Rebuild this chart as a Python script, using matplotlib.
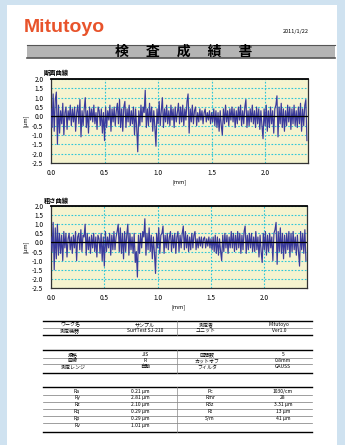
import matplotlib.pyplot as plt
import numpy as np
from matplotlib.lines import Line2D
from matplotlib.patches import Rectangle

plt.rcParams['font.family'] = ['Noto Sans CJK JP', 'DejaVu Sans']

# Profile data (um), one value every 0.01 mm
step_mm = 0.01
primary = [
    0.4, -0.6, 1.2, -0.8, 0.9, 1.3, -1.5, 0.6, -0.9, 0.3,
    -0.4, 0.7, -1.0, 0.2, 0.5, -0.7, 0.3, -0.2, 0.6, -0.5,
    0.4, -0.3, 0.5, -0.8, 0.2, 0.6, -0.4, 0.9, -1.1, 0.3,
    -0.5, 0.4, 1.0, -0.6, 0.3, -0.9, 0.5, -0.2, 0.4, -0.3,
    0.6, -0.4, 0.2, -0.7, 0.5, 0.3, -0.5, 0.4, -0.9, 0.2,
    -1.3, 0.5, -0.6, 0.3, -0.2, 0.6, -0.8, 0.4, -0.3, 0.5,
    -0.5, 0.3, 0.7, -0.4, 0.9, -0.6, 0.4, -0.8, 0.5, 0.8,
    -0.6, 0.4, -0.3, 0.6, -0.5, 0.3, -0.4, 0.5, -1.0, 0.4,
    -0.6, -1.9, 0.3, -0.5, 0.6, -0.3, 0.5, 0.2, 1.4, -0.6,
    0.4, -0.5, 0.7, -0.3, 0.5, -0.8, 0.3, -0.6, -1.6, 0.4,
    -0.4, 0.8, -0.5, 0.3, 1.0, -0.6, 0.4, -0.3, 0.6, -0.4,
    0.3, -0.5, 0.6, -0.2, 0.4, -0.6, 0.5, -0.3, 0.2, 0.7,
    -0.4, 0.5, -0.3, 0.6, -0.5, 0.4, -0.2, 0.8, 1.2, -0.9,
    0.4, -0.3, 0.6, -0.4, 0.3, 0.5, -0.5, 0.2, -0.3, 0.4,
    -0.2, 0.3, -0.4, 0.2, 0.4, -0.3, 0.2, -0.2, 0.3, -0.4,
    0.2, -0.3, 0.4, -0.5, 0.3, -0.6, 0.2, -0.8, 0.3, -0.5,
    -1.0, 0.4, -0.4, 0.6, -0.3, 0.3, -0.5, 0.4, -0.2, 0.5,
    -0.3, 0.4, -0.6, 0.3, -0.4, 0.5, -0.2, 0.6, -0.5, 0.3,
    -0.4, 0.5, 0.9, -0.6, 0.3, -0.5, 0.4, -0.3, 0.6, -0.4,
    0.3, -0.6, 0.5, -0.4, 0.4, -0.7, 0.3, -0.5, -1.2, 0.4,
    -0.5, 0.6, -0.8, 0.3, -0.6, 0.5, -0.4, 0.3, -0.9, 0.4,
    0.6, 1.1, -1.1, 0.5, -0.4, 0.7, -0.6, 0.4, -0.8, 0.3,
    -0.5, 0.6, -0.3, 0.5, -0.7, 0.4, -0.4, 0.6, -0.5, 0.3,
    -0.6, 0.5, -0.4, 0.7, -0.8, 0.4, -0.5, 0.6, 0.9, -1.3,
]
roughness = [
    0.3, -0.5, 1.1, -1.5, 0.8, -0.9, 1.0, -0.7, 0.5, -0.6,
    0.4, -1.0, 0.6, -0.3, 0.5, -0.8, 0.2, 0.5, -0.4, 0.3,
    -0.6, 0.4, -0.3, 0.6, -1.0, 0.3, 0.5, -0.4, 0.7, -0.5,
    0.4, 0.3, 1.0, -0.7, 0.5, -0.4, 0.3, -0.6, 0.4, -0.3,
    0.5, -0.5, 0.3, -0.8, 0.4, 0.2, -0.6, 0.5, -1.0, 0.3,
    -1.3, 0.6, -0.5, 0.3, -0.3, 0.5, -0.7, 0.4, -0.4, 0.6,
    -0.4, 0.3, 0.6, 1.0, -0.5, 0.8, -0.6, 0.5, -0.9, 0.6,
    -0.5, 0.4, 1.0, -0.7, 0.5, -0.4, 0.3, -0.6, 0.5, -1.1,
    -0.5, -1.9, 0.4, -0.6, 0.5, -0.3, 0.6, 0.3, 1.3, -0.7,
    0.5, -0.4, 0.8, -0.5, 0.4, -0.9, 0.3, -0.6, -1.7, 0.5,
    -0.3, 0.8, -0.6, 0.4, 0.5, 0.9, -0.6, 0.4, -0.3, 0.5,
    -0.4, 0.3, 0.6, -0.5, 0.4, -0.3, 0.5, -0.6, 0.3, 0.6,
    -0.5, 0.4, -0.3, 0.5, 0.9, -0.4, 0.6, -0.3, 0.4, -0.5,
    0.3, -0.4, 0.5, -0.3, 0.4, 0.6, -0.4, 0.2, -0.3, 0.3,
    -0.2, 0.3, -0.3, 0.2, 0.3, -0.3, 0.2, -0.2, 0.3, -0.3,
    0.2, -0.4, 0.3, -0.5, 0.4, -0.6, 0.3, -0.7, 0.2, -0.5,
    -1.0, 0.4, -0.5, 0.5, -0.3, 0.4, -0.6, 0.3, -0.3, 0.6,
    -0.3, 0.5, -0.5, 0.4, -0.4, 0.6, -0.3, 0.5, -0.6, 0.4,
    -0.4, 0.6, 0.9, -0.6, 0.4, -0.4, 0.5, -0.3, 0.5, -0.5,
    0.3, -0.5, 0.6, -0.4, 0.3, -0.8, 0.4, -0.5, -1.1, 0.5,
    -0.4, 0.6, -0.7, 0.4, -0.5, 0.5, -0.3, 0.3, -1.0, 0.5,
    0.7, 1.1, -1.2, 0.6, -0.5, 0.8, -0.6, 0.5, -0.9, 0.4,
    -0.6, 0.5, -0.4, 0.6, -0.8, 0.5, -0.5, 0.6, -0.4, 0.3,
    -0.7, 0.4, -0.5, -1.3, 0.6, -0.4, 0.5, -0.6, 0.7, -1.0,
]

x_ticks = [0.0, 0.5, 1.0, 1.5, 2.0]
y_ticks = [2.0, 1.5, 1.0, 0.5, 0.0, -0.5, -1.0, -1.5, -2.0, -2.5]
chart_titles = ['断面曲線', '粗さ曲線']

# Report tables
table1 = [['ワーク名', 'サンプル', '測定者', 'Mitutoyo'],
          ['測定機器', 'SurfTest SJ-210', 'ユニット', 'Ver1.0']]
table2 = [['規格', 'JIS', '区間数', '5'],
          ['曲線', 'R', 'カットオフ', '0.8mm'],
          ['測定レンジ', '自動', 'フィルタ', 'GAUSS']]
table3 = [['Ra', '0.21 µm', 'Pc', '1030/cm'],
          ['Ry', '2.81 µm', 'Rmr', '28'],
          ['Rz', '2.10 µm', 'R3z', '3.31 µm'],
          ['Rq', '0.29 µm', 'Rt', '13 µm'],
          ['Rp', '0.29 µm', 'S/m', '41 µm'],
          ['Rv', '1.01 µm', '', '']]

W, H = 345, 445
fig = plt.figure(figsize=(W / 100, H / 100), dpi=100)
fig.patch.set_facecolor('#cfe2f0')


def fx(px):
    return px / W


def fy(py):
    return 1 - py / H


# white page
fig.add_artist(Rectangle((fx(7), 0), fx(330), fy(5), transform=fig.transFigure,
                         facecolor='white', edgecolor='none', zorder=0))

# header
fig.text(fx(24), fy(28), 'Mitutoyo', color='#e8532b', fontsize=14, fontweight='bold',
         family='Liberation Sans', va='center', ha='left')
fig.text(fx(296), fy(32), '2011/1/22', fontsize=4, va='center', ha='center')
fig.add_artist(Rectangle((fx(27), fy(58)), fx(308), 13 / H, transform=fig.transFigure,
                         facecolor='#b4b4b4', edgecolor='none', zorder=1))
for yy, lw in [(45, 0.8), (58, 1.2)]:
    fig.add_artist(Line2D([fx(27), fx(335)], [fy(yy), fy(yy)], color='#555555', lw=lw))
fig.text(fx(184), fy(55.5), '検　 査　 成　 績　 書', fontsize=10, fontweight='bold',
         va='baseline', ha='center', zorder=3)


def profile_chart(box, data, title):
    left, top, right, bottom = box
    ax = fig.add_axes([fx(left), fy(bottom), fx(right - left), (bottom - top) / H])
    xs = np.arange(len(data)) * step_mm
    ax.set_facecolor('#f5f3cf')
    ax.plot(xs, data, color='#3a3a9c', lw=0.85, zorder=3)
    ax.axhline(0, color='black', lw=0.9, zorder=4)
    ax.set_xlim(0, 2.4)
    ax.set_ylim(-2.5, 2.0)
    ax.set_xticks(x_ticks)
    ax.set_xticklabels([f'{v:.1f}' for v in x_ticks])
    ax.set_yticks(y_ticks)
    ax.set_yticklabels([f'{v:.1f}' for v in y_ticks])
    ax.tick_params(axis='y', length=0, labelsize=4.7, pad=5.5)
    ax.tick_params(axis='x', length=0, labelsize=4.7, pad=4)
    ax.grid(True, color='#2ec6d8', linestyle=(0, (1.5, 1.5)), lw=0.8, zorder=1)
    for s in ax.spines.values():
        s.set_color('#333333')
        s.set_linewidth(0.9)
    ax.spines['top'].set_linewidth(1.3)
    ax.spines['top'].set_color('black')
    ax.set_xlabel('[mm]', fontsize=4, labelpad=2)
    ax.set_ylabel('[µm]', fontsize=4, labelpad=3)
    fig.text(fx(44), fy(top - 6), title, fontsize=4.5, fontweight='bold', va='center', ha='left')
    return ax


profile_chart((51, 79, 308, 163), primary, chart_titles[0])
profile_chart((51, 206, 307, 288), roughness, chart_titles[1])


def draw_table(rows, top, bottom, row_y, col_x, seps):
    x0, x1 = fx(43), fx(312)
    fig.add_artist(Line2D([x0, x1], [fy(top), fy(top)], color='black', lw=1.0))
    fig.add_artist(Line2D([x0, x1], [fy(bottom), fy(bottom)], color='black', lw=1.0))
    for s in seps:
        fig.add_artist(Line2D([x0, x1], [fy(s), fy(s)], color='#777777', lw=0.5))
    fig.add_artist(Line2D([fx(177), fx(177)], [fy(top), fy(bottom)], color='#888888', lw=0.5))
    for r, yy in zip(rows, row_y):
        for txt, cx in zip(r, col_x):
            fig.text(fx(cx), fy(yy + 1.4), txt, fontsize=3.6, va='baseline', ha='center')


draw_table(table1, 321, 334.5, [324.8, 330.5], [70, 145, 206, 279], [327.5])
draw_table(table2, 349.5, 373, [355, 361, 367], [73, 145, 207, 283], [358, 364])
draw_table(table3, 387, 431.5, [391.5, 398, 405, 412, 419, 426],
           [77, 140, 210, 283], [395, 401.5, 408.5, 415.5, 422.5])

fig.savefig('out.png', dpi=100, facecolor=fig.get_facecolor())
